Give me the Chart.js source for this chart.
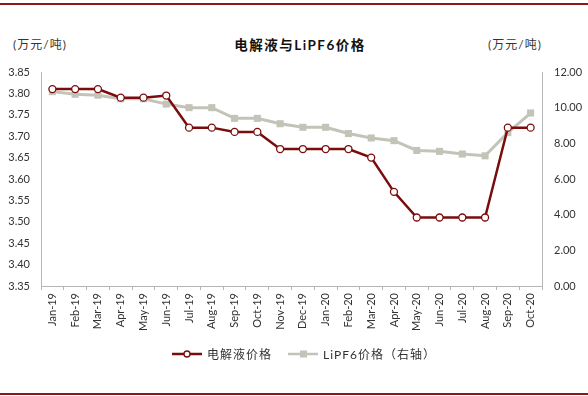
<!DOCTYPE html>
<html>
<head>
<meta charset="utf-8">
<script src="https://cdn.jsdelivr.net/npm/chart.js@4/dist/chart.umd.min.js"></script>
<style>
  html, body { margin: 0; padding: 0; background: #fff; }
  #wrap { position: relative; width: 588px; height: 396px; overflow: hidden; }
  #chart { position: absolute; left: 0; top: 0; }
  .rule { position: absolute; left: 0; width: 588px; height: 2px; background: #8b1a1a; }
  .txt { position: absolute; white-space: nowrap; color: #333; font-family: Lato, "Noto Sans CJK SC", sans-serif; }
  .unit { font-size: 12px; top: 35px; letter-spacing: 1px; }
  #title { top: 34px; left: 6px; width: 588px; text-align: center; font-size: 13.5px; font-weight: bold; color: #111; letter-spacing: 1.5px; }
  .leg { top: 345px; font-size: 12px; letter-spacing: 1px; }
</style>
</head>
<body>
<div id="wrap">
  <div class="rule" style="top:3px"></div>
  <div class="rule" style="top:393px"></div>
  <div id="title" class="txt">电解液与LiPF6价格</div>
  <div class="txt unit" style="left:13px">(万元/吨)</div>
  <div class="txt unit" style="left:488px">(万元/吨)</div>
  <canvas id="chart" width="588" height="396"></canvas>
  <div class="txt leg" style="left:207px">电解液价格</div>
  <div class="txt leg" style="left:323px">LiPF6价格（右轴）</div>
</div>
<script>
// months Jan-19 .. Oct-20
const months = ['Jan-19', 'Feb-19', 'Mar-19', 'Apr-19', 'May-19', 'Jun-19', 'Jul-19', 'Aug-19', 'Sep-19', 'Oct-19', 'Nov-19', 'Dec-19',
  'Jan-20', 'Feb-20', 'Mar-20', 'Apr-20', 'May-20', 'Jun-20', 'Jul-20', 'Aug-20', 'Sep-20', 'Oct-20'];
const electrolyte = [3.81, 3.81, 3.81, 3.79, 3.79, 3.795, 3.72, 3.72, 3.71, 3.71, 3.67, 3.67,
  3.67, 3.67, 3.65, 3.57, 3.51, 3.51, 3.51, 3.51, 3.72, 3.72];
const lipf6 = [10.9, 10.75, 10.7, 10.5, 10.5, 10.2, 10.0, 10.0, 9.4, 9.4, 9.1, 8.9,
  8.9, 8.55, 8.3, 8.15, 7.6, 7.55, 7.4, 7.3, 8.6, 9.7];
const leftTicks = [3.35, 3.40, 3.45, 3.50, 3.55, 3.60, 3.65, 3.70, 3.75, 3.80, 3.85];
const rightTicks = [0, 2, 4, 6, 8, 10, 12];

const MAROON = '#7a0c0c';
const GREY = '#c3c3b8';
const AXIS = '#b5b5b5';
const TXT = '#333';
const numFont = { family: 'Lato, "Liberation Sans", sans-serif', size: 11 };

// draws the two legend swatches under the chart
const legendSwatch = {
  id: 'legendSwatch',
  afterDraw(chart) {
    const ctx = chart.ctx;
    const y = 354;
    ctx.save();
    ctx.lineWidth = 2.5;
    ctx.strokeStyle = MAROON;
    ctx.beginPath(); ctx.moveTo(172, y); ctx.lineTo(202, y); ctx.stroke();
    ctx.fillStyle = '#fff'; ctx.lineWidth = 1.3;
    ctx.beginPath(); ctx.arc(187, y, 3, 0, Math.PI * 2); ctx.fill(); ctx.stroke();
    ctx.lineWidth = 2.5; ctx.strokeStyle = GREY;
    ctx.beginPath(); ctx.moveTo(288, y); ctx.lineTo(318, y); ctx.stroke();
    ctx.fillStyle = GREY; ctx.fillRect(300, y - 3.5, 7, 7);
    ctx.restore();
  }
};

new Chart(document.getElementById('chart'), {
  type: 'line',
  data: {
    labels: months,
    datasets: [
      {
        label: '电解液价格', data: electrolyte, yAxisID: 'y',
        borderColor: MAROON, borderWidth: 2.5, tension: 0,
        pointStyle: 'circle', pointRadius: 3.5, pointBackgroundColor: '#fff',
        pointBorderColor: MAROON, pointBorderWidth: 1.3,
      },
      {
        label: 'LiPF6价格（右轴）', data: lipf6, yAxisID: 'y1',
        borderColor: GREY, borderWidth: 3, tension: 0,
        pointStyle: 'rect', pointRadius: 5, pointBackgroundColor: GREY,
        pointBorderColor: GREY, pointBorderWidth: 0,
      },
    ],
  },
  options: {
    responsive: false,
    animation: false,
    events: [],
    layout: { padding: { top: 72, left: 0, right: 0, bottom: 0 } },
    plugins: { legend: { display: false }, tooltip: { enabled: false } },
    scales: {
      x: {
        offset: true,
        grid: { offset: true, drawOnChartArea: false, drawTicks: true, tickLength: 4, color: AXIS },
        border: { color: AXIS },
        ticks: { color: TXT, font: numFont, minRotation: 90, maxRotation: 90, autoSkip: false, padding: 3 },
        afterFit(s) { s.height = 110; },
      },
      y: {
        position: 'left', min: 3.35, max: 3.85,
        grid: { display: false, drawTicks: false },
        border: { color: AXIS },
        afterBuildTicks(s) { s.ticks = leftTicks.map(v => ({ value: v })); },
        ticks: { color: TXT, font: numFont, padding: 11, callback: v => v.toFixed(2) },
        afterFit(s) { s.width = 41; },
      },
      y1: {
        position: 'right', min: 0, max: 12,
        grid: { display: false, drawTicks: false },
        border: { color: AXIS },
        afterBuildTicks(s) { s.ticks = rightTicks.map(v => ({ value: v })); },
        ticks: { color: TXT, font: numFont, padding: 12, callback: v => v.toFixed(2) },
        afterFit(s) { s.width = 46; },
      },
    },
  },
  plugins: [legendSwatch],
});
</script>
</body>
</html>
